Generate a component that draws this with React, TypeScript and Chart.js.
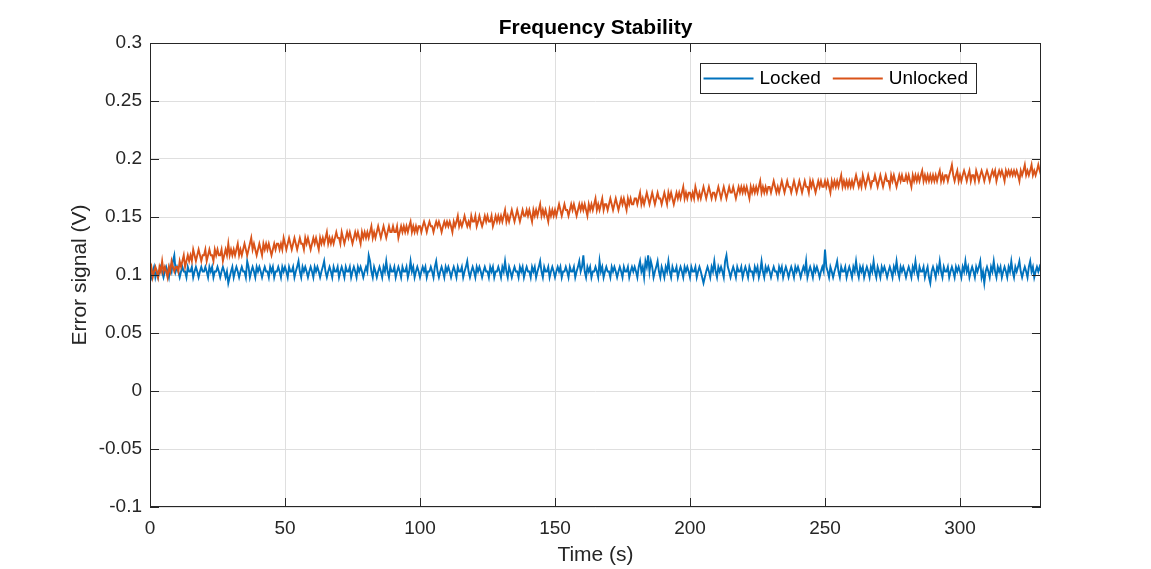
import { useEffect, useRef } from "react";
import { Chart, registerables } from "chart.js";

Chart.register(...registerables);

// two samples per second, millivolts (ADC steps of ~4.9 mV)
const SAMPLE_PERIOD_S = 0.5;

const LOCKED_MV = [
  103, 98, 103, 107, 98, 103, 98, 103, 107, 103, 98, 103, 107, 103, 98, 107, 103, 112, 117, 103,
  107, 103, 98, 103, 107, 103, 103, 98, 107, 103, 103, 107, 98, 103, 107, 103, 98, 103, 107, 103,
  103, 107, 103, 98, 107, 103, 107, 98, 103, 103, 107, 103, 98, 103, 107, 103, 98, 103, 93, 98,
  103, 107, 98, 103, 107, 103, 98, 103, 107, 103, 103, 98, 112, 107, 98, 103, 107, 103, 98, 107,
  103, 107, 103, 98, 103, 107, 103, 103, 98, 107, 103, 107, 98, 103, 103, 107, 103, 98, 107, 103,
  107, 103, 98, 107, 103, 103, 107, 98, 103, 107, 112, 103, 98, 107, 103, 107, 103, 98, 103, 107,
  103, 98, 107, 103, 107, 103, 98, 103, 107, 112, 103, 98, 103, 107, 103, 98, 107, 103, 103, 107,
  98, 103, 107, 103, 98, 107, 103, 103, 107, 98, 103, 107, 103, 98, 107, 103, 107, 103, 98, 103,
  107, 103, 117, 112, 103, 98, 107, 103, 98, 103, 107, 103, 98, 107, 103, 112, 103, 98, 107, 103,
  103, 107, 98, 103, 107, 103, 98, 107, 103, 103, 107, 98, 103, 112, 103, 107, 98, 103, 107, 103,
  98, 103, 107, 103, 107, 98, 103, 103, 107, 103, 98, 107, 112, 103, 98, 103, 107, 103, 98, 107,
  103, 107, 103, 98, 103, 107, 103, 98, 107, 103, 103, 107, 98, 103, 107, 112, 103, 98, 103, 107,
  103, 98, 107, 103, 107, 103, 98, 103, 107, 103, 103, 98, 107, 103, 107, 98, 103, 103, 107, 103,
  98, 107, 103, 112, 103, 98, 107, 103, 98, 103, 107, 103, 103, 98, 107, 103, 107, 98, 103, 107,
  103, 103, 98, 107, 103, 107, 98, 103, 107, 112, 103, 98, 107, 103, 103, 107, 98, 103, 107, 103,
  98, 103, 107, 103, 107, 98, 103, 103, 107, 103, 98, 107, 103, 103, 107, 98, 103, 107, 112, 103,
  107, 117, 103, 98, 107, 103, 107, 98, 103, 103, 107, 103, 98, 112, 103, 107, 98, 103, 107, 103,
  103, 98, 107, 103, 107, 103, 98, 103, 107, 103, 98, 107, 103, 103, 107, 98, 103, 107, 103, 107,
  103, 98, 107, 112, 103, 107, 98, 112, 107, 117, 103, 112, 107, 98, 103, 107, 112, 103, 98, 107,
  103, 98, 107, 103, 112, 103, 98, 107, 103, 103, 107, 98, 103, 107, 103, 98, 107, 103, 107, 103,
  98, 107, 103, 103, 107, 98, 103, 107, 103, 98, 93, 98, 103, 107, 103, 98, 107, 103, 112, 103,
  98, 107, 103, 107, 103, 98, 112, 117, 107, 103, 98, 103, 107, 103, 98, 107, 103, 103, 107, 98,
  103, 107, 103, 98, 107, 103, 103, 98, 107, 103, 107, 98, 103, 112, 103, 98, 107, 103, 107, 103,
  98, 103, 107, 103, 103, 98, 107, 103, 107, 98, 103, 107, 103, 98, 103, 107, 103, 98, 107, 103,
  107, 103, 98, 103, 107, 103, 112, 98, 103, 107, 103, 98, 107, 103, 107, 103, 98, 103, 107, 103,
  122, 107, 103, 98, 107, 103, 98, 103, 107, 112, 103, 98, 107, 103, 103, 107, 98, 103, 107, 103,
  98, 107, 103, 112, 103, 98, 107, 103, 107, 98, 103, 107, 103, 98, 107, 103, 112, 103, 98, 107,
  103, 98, 107, 103, 107, 103, 98, 103, 107, 103, 98, 107, 103, 112, 103, 98, 107, 103, 107, 103,
  98, 103, 107, 103, 98, 107, 103, 112, 103, 98, 107, 103, 103, 107, 98, 103, 107, 98, 93, 103,
  107, 103, 98, 107, 103, 112, 103, 98, 107, 103, 103, 107, 98, 103, 107, 103, 98, 107, 103, 107,
  103, 98, 107, 103, 112, 103, 107, 98, 103, 107, 103, 98, 107, 103, 107, 112, 98, 103, 93, 103,
  107, 103, 98, 107, 103, 112, 103, 98, 107, 103, 107, 98, 103, 107, 103, 98, 107, 103, 112, 103,
  98, 107, 103, 107, 112, 103, 98, 103, 107, 103, 98, 107, 112, 103, 107, 98, 103, 107, 103, 107,
  103
];

const UNLOCKED_MV = [
  103, 107, 98, 103, 107, 103, 98, 107, 103, 112, 103, 107, 103, 98, 107, 103, 112, 107, 103, 107,
  107, 103, 112, 107, 112, 117, 107, 112, 117, 112, 117, 112, 122, 117, 112, 117, 122, 117, 112, 117,
  117, 122, 112, 117, 122, 117, 117, 112, 122, 117, 122, 117, 117, 122, 112, 117, 122, 117, 127, 117,
  122, 117, 122, 117, 122, 127, 117, 122, 117, 122, 127, 122, 117, 122, 127, 132, 122, 127, 122, 117,
  122, 127, 122, 117, 127, 122, 127, 122, 127, 122, 117, 122, 127, 122, 127, 127, 122, 127, 122, 132,
  127, 122, 127, 132, 127, 122, 127, 132, 127, 122, 127, 132, 127, 127, 122, 132, 127, 132, 127, 122,
  127, 132, 127, 132, 127, 122, 132, 127, 132, 127, 132, 137, 127, 132, 127, 132, 127, 132, 137, 132,
  132, 127, 137, 132, 127, 132, 137, 132, 137, 132, 127, 132, 137, 132, 137, 132, 127, 137, 132, 137,
  132, 137, 132, 137, 142, 132, 137, 132, 137, 142, 137, 132, 137, 142, 137, 132, 137, 142, 137, 137,
  142, 137, 137, 142, 132, 137, 142, 137, 142, 137, 142, 137, 142, 146, 137, 142, 137, 142, 137, 142,
  142, 137, 142, 146, 142, 137, 142, 146, 142, 142, 137, 142, 146, 142, 146, 142, 137, 142, 146, 142,
  146, 142, 146, 142, 137, 146, 142, 146, 151, 142, 146, 142, 146, 151, 146, 142, 146, 142, 151, 146,
  146, 151, 142, 146, 151, 146, 142, 146, 151, 146, 151, 146, 146, 151, 142, 146, 151, 146, 151, 146,
  151, 146, 151, 156, 146, 151, 146, 151, 156, 151, 146, 151, 156, 151, 146, 151, 156, 151, 151, 156,
  151, 156, 151, 146, 156, 151, 156, 151, 156, 161, 151, 156, 151, 156, 151, 146, 156, 151, 156, 151,
  156, 151, 156, 161, 156, 151, 156, 161, 156, 156, 151, 156, 161, 156, 161, 156, 151, 156, 161, 156,
  161, 156, 161, 156, 151, 161, 156, 161, 156, 161, 166, 156, 161, 156, 161, 166, 156, 161, 161, 156,
  161, 166, 161, 156, 161, 166, 161, 156, 161, 166, 161, 166, 161, 156, 166, 161, 166, 161, 161, 166,
  166, 161, 166, 171, 161, 166, 161, 166, 171, 166, 161, 166, 171, 166, 161, 166, 171, 166, 166, 161,
  166, 171, 166, 161, 171, 166, 171, 166, 161, 166, 171, 166, 171, 166, 171, 176, 166, 171, 166, 171,
  171, 166, 171, 166, 176, 171, 166, 171, 166, 171, 176, 171, 166, 171, 176, 171, 166, 171, 171, 166,
  171, 176, 171, 166, 171, 176, 171, 166, 171, 176, 171, 171, 176, 171, 166, 171, 176, 171, 176, 171,
  176, 171, 176, 171, 166, 176, 171, 176, 171, 176, 171, 176, 181, 171, 176, 171, 176, 171, 176, 176,
  171, 176, 181, 176, 171, 176, 171, 176, 181, 176, 171, 176, 181, 176, 176, 171, 176, 181, 176, 171,
  176, 181, 176, 171, 176, 181, 176, 176, 171, 181, 176, 181, 176, 171, 176, 181, 176, 181, 176, 176,
  181, 176, 181, 176, 171, 181, 176, 181, 176, 181, 176, 181, 186, 176, 181, 176, 181, 176, 181, 176,
  181, 176, 181, 186, 181, 176, 181, 176, 186, 181, 176, 181, 186, 181, 176, 181, 181, 186, 181, 176,
  181, 186, 181, 176, 181, 186, 181, 181, 176, 186, 181, 186, 181, 176, 181, 186, 181, 186, 181, 181,
  186, 181, 186, 181, 176, 186, 181, 186, 181, 186, 181, 186, 190, 181, 186, 181, 186, 181, 186, 181,
  186, 181, 186, 181, 186, 190, 181, 186, 181, 186, 186, 181, 186, 190, 195, 186, 181, 186, 190, 181,
  186, 181, 186, 190, 186, 181, 186, 190, 181, 186, 186, 181, 190, 186, 181, 186, 190, 186, 181, 186,
  190, 186, 181, 186, 190, 186, 190, 181, 186, 190, 186, 190, 186, 181, 190, 186, 190, 186, 190, 186,
  190, 186, 190, 186, 181, 190, 186, 190, 195, 186, 190, 186, 190, 195, 186, 190, 186, 190, 195, 190,
  186
];

const X_TICKS = [0, 50, 100, 150, 200, 250, 300];
const Y_TICKS = [-0.1, -0.05, 0, 0.05, 0.1, 0.15, 0.2, 0.25, 0.3];

const FONT = '"Liberation Sans", Arial, Helvetica, sans-serif';
const AXIS_COLOR = "#262626";
const GRID_COLOR = "#dfdfdf";

const toPoints = (millivolts: number[]) =>
  millivolts.map((mv, i) => ({ x: i * SAMPLE_PERIOD_S, y: mv / 1000 }));

// MATLAB-ish box with inward ticks on all four sides
const framePlugin = {
  id: "frame",
  afterDatasetsDraw(chart: any) {
    const { ctx, chartArea, scales } = chart;
    const { left, right, top, bottom } = chartArea;
    const tl = 9;
    ctx.save();
    ctx.strokeStyle = AXIS_COLOR;
    ctx.lineWidth = 1;
    ctx.beginPath();
    for (const t of scales.x.ticks) {
      const px = Math.round(scales.x.getPixelForValue(t.value)) + 0.5;
      ctx.moveTo(px, bottom);
      ctx.lineTo(px, bottom - tl);
      ctx.moveTo(px, top);
      ctx.lineTo(px, top + tl);
    }
    for (const t of scales.y.ticks) {
      const py = Math.round(scales.y.getPixelForValue(t.value)) + 0.5;
      ctx.moveTo(left, py);
      ctx.lineTo(left + tl, py);
      ctx.moveTo(right, py);
      ctx.lineTo(right - tl, py);
    }
    ctx.stroke();
    ctx.strokeRect(left + 0.5, top + 0.5, right - left - 1, bottom - top - 1);
    ctx.restore();
  }
};

const legendPlugin = {
  id: "boxLegend",
  afterDraw(chart: any) {
    const { ctx, chartArea } = chart;
    const sets = chart.data.datasets;
    ctx.save();
    ctx.font = `19px ${FONT}`;
    const lineLen = 50;
    const widths = sets.map((d: any) => ctx.measureText(d.label).width);
    const w = 4 + widths.reduce((a: number, b: number) => a + b, 0) + sets.length * (lineLen + 6) + (sets.length - 1) * 12 + 8;
    const h = 30;
    const x0 = chartArea.right - 65 - w;
    const y0 = chartArea.top + 20;
    ctx.fillStyle = "#ffffff";
    ctx.fillRect(x0, y0, w, h);
    ctx.strokeStyle = AXIS_COLOR;
    ctx.lineWidth = 1;
    ctx.strokeRect(Math.round(x0) + 0.5, Math.round(y0) + 0.5, Math.round(w), h);
    let x = x0 + 4;
    const cy = y0 + h / 2 + 0.5;
    sets.forEach((d: any, i: number) => {
      ctx.strokeStyle = d.borderColor;
      ctx.lineWidth = 2;
      ctx.beginPath();
      ctx.moveTo(x, cy);
      ctx.lineTo(x + lineLen, cy);
      ctx.stroke();
      x += lineLen + 6;
      ctx.fillStyle = "#000000";
      ctx.textBaseline = "middle";
      ctx.textAlign = "left";
      ctx.fillText(d.label, x, cy);
      x += widths[i] + 12;
    });
    ctx.restore();
  }
};

export default function App() {
  const canvasRef = useRef<HTMLCanvasElement | null>(null);

  useEffect(() => {
    if (!canvasRef.current) return;
    Chart.defaults.font.family = FONT;

    const chart = new Chart(canvasRef.current, {
      type: "line",
      data: {
        datasets: [
          {
            label: "Locked",
            data: toPoints(LOCKED_MV),
            borderColor: "#0072BD",
            borderWidth: 1.9,
            pointRadius: 0,
            tension: 0,
            order: 1
          },
          {
            label: "Unlocked",
            data: toPoints(UNLOCKED_MV),
            borderColor: "#D95319",
            borderWidth: 1.9,
            pointRadius: 0,
            tension: 0,
            order: 0
          }
        ]
      },
      options: {
        animation: false,
        responsive: true,
        maintainAspectRatio: false,
        layout: { padding: { left: 0, right: 110, top: 0, bottom: 0 } },
        plugins: {
          legend: { display: false },
          tooltip: { enabled: false },
          title: {
            display: true,
            text: "Frequency Stability",
            color: "#000000",
            fullSize: false,
            font: { size: 21, weight: "bold" },
            padding: { top: 16, bottom: 1.8 }
          }
        },
        scales: {
          x: {
            type: "linear",
            min: 0,
            max: 330,
            afterBuildTicks: (s: any) => {
              s.ticks = X_TICKS.map((value) => ({ value }));
            },
            afterFit: (s: any) => {
              s.height = 62;
            },
            ticks: {
              color: AXIS_COLOR,
              font: { size: 19 },
              padding: 10,
              maxRotation: 0,
              callback: (v: any) => String(v)
            },
            grid: { color: GRID_COLOR, drawTicks: false },
            border: { display: false },
            title: {
              display: true,
              text: "Time (s)",
              color: AXIS_COLOR,
              font: { size: 21 },
              padding: { top: 0, bottom: 1 }
            }
          },
          y: {
            type: "linear",
            min: -0.1,
            max: 0.3,
            afterBuildTicks: (s: any) => {
              s.ticks = Y_TICKS.map((value) => ({ value }));
            },
            afterFit: (s: any) => {
              s.width = 150;
            },
            ticks: {
              color: AXIS_COLOR,
              font: { size: 19 },
              padding: 8,
              callback: (v: any) => String(Number(Number(v).toFixed(2)))
            },
            grid: { color: GRID_COLOR, drawTicks: false },
            border: { display: false },
            title: {
              display: true,
              text: "Error signal (V)",
              color: AXIS_COLOR,
              font: { size: 21 },
              padding: { top: 68, bottom: 0 }
            }
          }
        }
      },
      plugins: [framePlugin, legendPlugin]
    });

    return () => chart.destroy();
  }, []);

  return (
    <div
      style={{
        position: "absolute",
        left: 0,
        top: 0,
        width: 1151,
        height: 569,
        background: "#ffffff"
      }}
    >
      <canvas ref={canvasRef} />
    </div>
  );
}
